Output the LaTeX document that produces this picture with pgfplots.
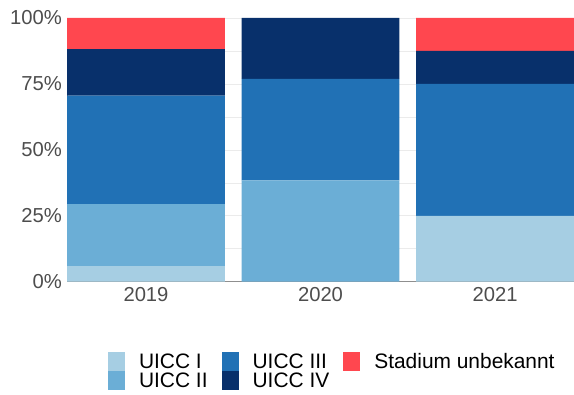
\documentclass[border=0pt]{standalone}
\usepackage{fontspec}
\setmainfont{Liberation Sans}
\usepackage{pgfplots}
\pgfplotsset{compat=1.18}
\definecolor{cI}{HTML}{A6CEE3}
\definecolor{cII}{HTML}{6BAED6}
\definecolor{cIII}{HTML}{2171B5}
\definecolor{cIV}{HTML}{08306B}
\definecolor{cU}{HTML}{FF474F}
\definecolor{tickgray}{HTML}{4D4D4D}
\definecolor{gridgray}{HTML}{EBEBEB}
\definecolor{axgray}{HTML}{8F8F8F}
\pgfplotsset{
  mybar/.style={fill=#1, draw=none,
    legend image code/.code={\fill[fill=#1] (0bp,-9.5bp) rectangle (17bp,9.5bp); \path (31bp,0bp);}},
}
\begin{document}
\begin{tikzpicture}[x=1bp,y=1bp]
\useasboundingbox (0,0) rectangle (574,394);
\begin{axis}[
  at={(67bp,112.3bp)}, anchor=south west,
  scale only axis, width=507bp, height=263.7bp,
  ybar stacked, bar width=0.905, bar shift=0pt,
  xmin=-0.4527, xmax=2.4527, ymin=0, ymax=100,
  xtick={0,1,2}, xticklabels={2019,2020,2021},
  ytick={0,25,50,75,100}, yticklabels={0\%,25\%,50\%,75\%,100\%},
  minor ytick={12.5,37.5,62.5,87.5},
  ymajorgrids, yminorgrids,
  major grid style={gridgray, line width=0.7bp},
  minor grid style={gridgray, line width=0.5bp},
  axis x line*=bottom, axis y line*=left,
  axis line style={axgray, line width=0.8bp, -},
  major tick length=0pt, minor tick length=0pt,
  /pgf/number format/assume math mode=true,
  ticklabel style={font=\fontsize{20.3}{24}\selectfont, text=tickgray, inner sep=0pt},
  yticklabel style={xshift=-5bp},
  xticklabel style={yshift=-5.5bp},
  legend columns=2, transpose legend,
  legend cell align=left,
  legend style={at={(axis description cs:0.0809,-0.2666)}, anchor=north west,
    draw=none, fill=none, inner sep=0pt, outer sep=0pt,
    font={\fontsize{21}{0}\selectfont\lineskip=0pt\lineskiplimit=0pt}, row sep=0pt,
    nodes={inner sep=0pt, outer sep=0pt},
    /tikz/every even column/.append style={column sep=14bp}},
]
\addplot+[mybar=cI] coordinates {(0,5.882) (1,0) (2,25)};
\addlegendentry{UICC I}
\addplot+[mybar=cII] coordinates {(0,23.529) (1,38.462) (2,0)};
\addlegendentry{UICC II}
\addplot+[mybar=cIII] coordinates {(0,41.176) (1,38.462) (2,50)};
\addlegendentry{UICC III}
\addplot+[mybar=cIV] coordinates {(0,17.647) (1,23.076) (2,12.5)};
\addlegendentry{UICC IV}
\addplot+[mybar=cU] coordinates {(0,11.766) (1,0) (2,12.5)};
\addlegendentry{Stadium unbekannt}
\end{axis}
\end{tikzpicture}
\end{document}
